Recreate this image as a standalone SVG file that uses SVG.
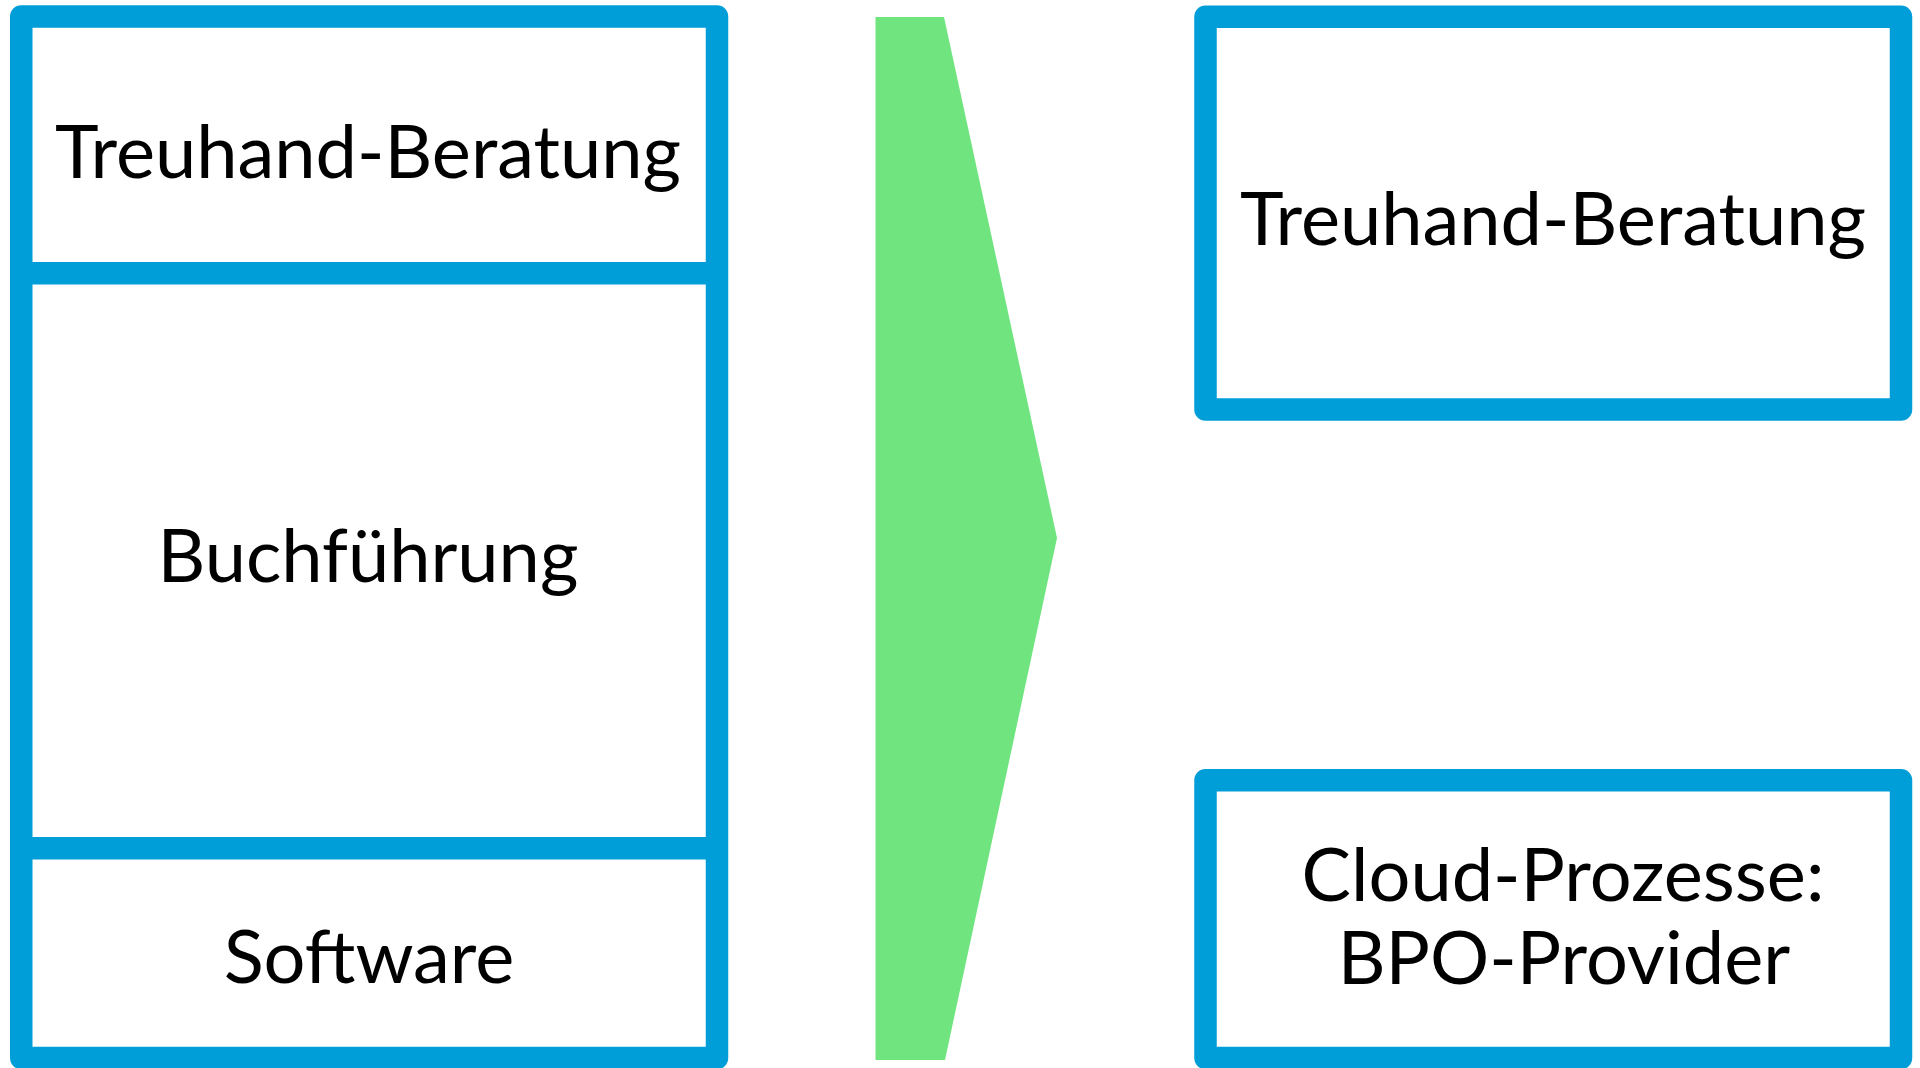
<svg xmlns="http://www.w3.org/2000/svg" width="1920" height="1068" viewBox="0 0 1920 1068">
<style>
.box{fill:none;stroke:#009ED8;stroke-width:22.5;stroke-linejoin:round}
.div{stroke:#009ED8;stroke-width:22.5}
.lbl{font-family:Lato,"Open Sans","Liberation Sans",sans-serif;font-size:74px;fill:#000;text-anchor:middle}
</style>
<rect width="1920" height="1068" fill="#fff"/>
<g id="left-stack">
<rect class="box" x="21.25" y="16.5" width="695.75" height="1041.5"/>
<line class="div" x1="21" y1="273.3" x2="717" y2="273.3"/>
<line class="div" x1="21" y1="848.3" x2="717" y2="848.3"/>
</g>
<g id="node-treuhand-left"><text class="lbl" x="368" y="178">Treuhand-Beratung</text></g>
<g id="node-buchfuehrung"><text class="lbl" x="368" y="582">Buchführung</text></g>
<g id="node-software"><text class="lbl" x="369" y="983">Software</text></g>
<g id="connectors">
<polygon points="875.5,17 944,17 1057,538 945,1060 875.5,1060" fill="#70E57F"/>
</g>
<g id="node-treuhand-right">
<rect class="box" x="1205.5" y="16.7" width="695.5" height="392.8"/>
<text class="lbl" x="1553" y="245">Treuhand-Beratung</text>
</g>
<g id="node-cloud">
<rect class="box" x="1205.5" y="780.3" width="695.5" height="277.7"/>
<text class="lbl" x="1563" y="901">Cloud-Prozesse:</text>
<text class="lbl" x="1564" y="984">BPO-Provider</text>
</g>
</svg>
